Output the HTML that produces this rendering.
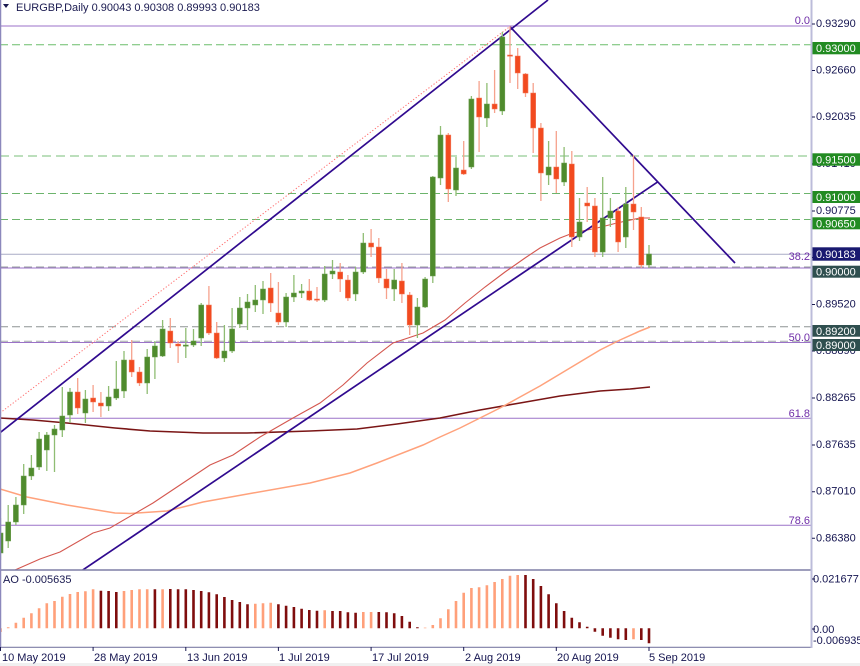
<!DOCTYPE html>
<html><head><meta charset="utf-8"><style>
html,body{margin:0;padding:0;background:#fff;}
svg{display:block;font-family:"Liberation Sans",Tahoma,sans-serif;}
</style></head><body>
<svg width="860" height="666" viewBox="0 0 860 666" xmlns="http://www.w3.org/2000/svg">
<defs><clipPath id="mc"><rect x="0" y="0" width="811" height="570"/></clipPath>
<clipPath id="ac"><rect x="0" y="571" width="811" height="76"/></clipPath></defs>
<rect width="860" height="666" fill="#fff"/>
<rect x="0" y="663" width="860" height="3" fill="#f0f0f0"/>
<g clip-path="url(#mc)">
<!-- horizontal levels -->
<line x1="0" y1="44.7" x2="811" y2="44.7" stroke="#6cbd6c" stroke-width="1" stroke-dasharray="8 4"/>
<line x1="0" y1="156" x2="811" y2="156" stroke="#bcdfbc" stroke-width="2" stroke-dasharray="9 5"/>
<line x1="0" y1="193.5" x2="811" y2="193.5" stroke="#6cb46c" stroke-width="1" stroke-dasharray="8 4"/>
<line x1="0" y1="219.5" x2="811" y2="219.5" stroke="#6cb46c" stroke-width="1" stroke-dasharray="8 4"/>
<line x1="0" y1="254.3" x2="811" y2="254.3" stroke="#a9abc6" stroke-width="1"/>
<line x1="0" y1="26" x2="811" y2="26" stroke="#9b72c8" stroke-width="1"/>
<line x1="0" y1="268" x2="811" y2="268" stroke="#9b72c8" stroke-width="1"/>
<line x1="0" y1="342.5" x2="811" y2="342.5" stroke="#9b72c8" stroke-width="1"/>
<line x1="0" y1="418.3" x2="811" y2="418.3" stroke="#9b72c8" stroke-width="1"/>
<line x1="0" y1="525.3" x2="811" y2="525.3" stroke="#9b72c8" stroke-width="1"/>
<line x1="0" y1="267" x2="811" y2="267" stroke="#9aa0a0" stroke-width="1" stroke-dasharray="8 4"/>
<line x1="0" y1="326.8" x2="811" y2="326.8" stroke="#8e9494" stroke-width="1" stroke-dasharray="8 4"/>
<line x1="0" y1="341.3" x2="811" y2="341.3" stroke="#a2a8a8" stroke-width="1" stroke-dasharray="8 4"/>
<!-- fib labels -->
<g font-size="11" fill="#6f2da8" text-anchor="end">
<text x="810" y="24">0.0</text>
<text x="810" y="260">38.2</text>
<text x="810" y="341">50.0</text>
<text x="810" y="417">61.8</text>
<text x="810" y="524">78.6</text>
</g>
<!-- moving averages -->
<polyline fill="none" stroke="#7a1515" stroke-width="1.6" points="0,418 33,420 67,423 115,428 150,431 203,433 247,433 310,431 357,429 397,424 440,418 480,410 520,403 560,396 600,391 630,389 650,387"/>
<polyline fill="none" stroke="#ffa27c" stroke-width="1.5" points="0,489 27,497 67,505 115,513 130,513.5 167,511 203,502 253,493 310,483 350,473 377,463 423,445 440,437 460,428 480,418 500,408 520,397 540,386 560,374 580,362 600,350 620,340 640,331 650,327"/>
<polyline fill="none" stroke="#d4574f" stroke-width="1.1" points="15,570 40,559 60,552 93,533 110,528 153,503 177,487 210,465 233,455 260,437 293,418 320,403 343,385 367,363 393,343 423,333 445,320 465,303 485,287 505,272 525,258 540,248 560,238 573,233 597,228 617,223 640,218 650,218"/>
<!-- trend lines -->
<line x1="0" y1="413" x2="510" y2="26.5" stroke="#ff6a6a" stroke-width="1" stroke-dasharray="1.2 2"/>
<line x1="0" y1="432.7" x2="548" y2="0" stroke="#300a8f" stroke-width="1.7"/>
<line x1="82.8" y1="570" x2="658" y2="181.7" stroke="#300a8f" stroke-width="1.7"/>
<line x1="510" y1="26.7" x2="735" y2="263" stroke="#300a8f" stroke-width="1.7"/>
<!-- wicks -->
<path fill="none" stroke="#8fbd73" stroke-width="1.3" d="M0.5 518V560M8.2 505V548M15.9 497V525M23.7 464V514M31.4 455V480M39.1 432V470M46.8 432V471M54.5 425V472M62.3 387V437M70 388V423M85.4 390V423M108.6 386V411M116.3 361V400M124 351V398M147.2 349V394M154.9 341V379M162.6 320V357M185.8 328V358M193.5 329V347M201.2 303V346M224.4 325V362M232.1 308V353M239.8 297V328M247.5 294V330M255.3 285V312M263 281V314M286.1 293V327M293.9 275V302M301.6 284V298M324.7 266V302M332.5 260V279M355.6 267V301M363.3 233V274M394.2 269V301M417.4 298V338M425.1 277V308M432.8 176V283M440.5 126V185M456 157V196M471.4 96V169M486.9 83V127M502.3 32V115M548.6 141V185M564.1 147V186M579.5 198V241M602.7 177V257M610.4 198V227M625.8 187V248M649 245V268"/>
<path fill="none" stroke="#f6a28d" stroke-width="1.3" d="M77.7 378V414M93.1 385V412M100.9 392V417M131.7 340V377M139.5 367V386M170.3 318V348M178.1 341V363M208.9 286V335M216.7 322V359M270.7 273V312M278.4 282V325M309.3 279V301M317 287V302M340.2 263V292M347.9 275V301M371.1 229V257M378.8 238V283M386.5 269V299M401.9 263V303M409.7 292V335M448.3 133V202M463.7 141V175M479.1 81V152M494.6 70V113M510 26V83M517.7 48V89M525.5 73V97M533.2 83V153M540.9 123V201M556.3 131V193M571.8 151V247M587.2 187V222M594.9 198V257M618.1 207V252M633.5 155V230M641.3 207V268"/>
<!-- bodies -->
<path fill="#4f8b2d" stroke="#6f9f52" stroke-width="0.6" d="M-2 533h5v20h-5zM5.7 522h5v19h-5zM13.4 505h5v17h-5zM21.2 476h5v29h-5zM28.9 468h5v8h-5zM36.6 439h5v28h-5zM44.3 435h5v15h-5zM52 429h5v6h-5zM59.8 416h5v14h-5zM67.5 392h5v23h-5zM82.9 399h5v14h-5zM106.1 397h5v9h-5zM113.8 389h5v9h-5zM121.5 360h5v31h-5zM144.7 357h5v26h-5zM152.4 346h5v11h-5zM160.1 329h5v27h-5zM183.3 345h5v1.2h-5zM191 341h5v4h-5zM198.7 305h5v33h-5zM221.9 351h5v7h-5zM229.6 329h5v22h-5zM237.3 308h5v16h-5zM245 302h5v6h-5zM252.8 300h5v5h-5zM260.5 289h5v11h-5zM283.6 297h5v25h-5zM291.4 293h5v4h-5zM299.1 291h5v2h-5zM322.2 274h5v26h-5zM330 271h5v3h-5zM353.1 272h5v22h-5zM360.8 243h5v29h-5zM391.7 280h5v9h-5zM414.9 307h5v18h-5zM422.6 279h5v28h-5zM430.3 177h5v99h-5zM438 135h5v43h-5zM453.5 168h5v22h-5zM468.9 99h5v68h-5zM484.4 104h5v14h-5zM499.8 37h5v74h-5zM546.1 167h5v8h-5zM561.6 163h5v19h-5zM577 222h5v15h-5zM600.2 218h5v34h-5zM607.9 211h5v7h-5zM623.3 204h5v33h-5zM646.5 254h5v11h-5z"/>
<path fill="#f24a1f" stroke="#f37a5c" stroke-width="0.6" d="M75.2 392h5v16h-5zM90.6 398h5v4h-5zM98.4 403h5v3h-5zM129.2 360h5v12h-5zM137 372h5v11h-5zM167.8 331h5v12h-5zM175.6 344h5v2h-5zM206.4 305h5v28h-5zM214.2 333h5v25h-5zM268.2 288h5v15h-5zM275.9 313h5v9h-5zM306.8 291h5v9h-5zM314.5 299h5v1.2h-5zM337.7 272h5v7h-5zM345.4 280h5v18h-5zM368.6 243h5v4h-5zM376.3 247h5v31h-5zM384 279h5v9h-5zM399.4 281h5v13h-5zM407.2 295h5v30h-5zM445.8 135h5v54h-5zM461.2 170h5v4h-5zM476.6 98h5v19h-5zM492.1 104h5v5h-5zM507.5 55h5v1.2h-5zM515.2 56h5v17h-5zM523 74h5v19h-5zM530.7 93h5v35h-5zM538.4 128h5v45h-5zM553.8 167h5v12h-5zM569.3 164h5v73h-5zM584.7 203h5v3h-5zM592.4 206h5v46h-5zM615.6 211h5v31h-5zM631 204h5v8h-5zM638.8 217h5v48h-5z"/>
</g>
<!-- AO panel -->
<g clip-path="url(#ac)">
<path fill="#ffa07a" d="M-0.8 628.3h2.6V632h-2.6zM6.9 627.3h2.6V628.3h-2.6zM14.6 622.7h2.6V628.3h-2.6zM22.4 617.7h2.6V628.3h-2.6zM30.1 613.3h2.6V628.3h-2.6zM37.8 608.3h2.6V628.3h-2.6zM45.5 603.3h2.6V628.3h-2.6zM53.2 601h2.6V628.3h-2.6zM61 596.7h2.6V628.3h-2.6zM68.7 594h2.6V628.3h-2.6zM76.4 592h2.6V628.3h-2.6zM84.1 591.3h2.6V628.3h-2.6zM91.8 589.3h2.6V628.3h-2.6zM122.7 591h2.6V628.3h-2.6zM130.4 590h2.6V628.3h-2.6zM138.2 589.3h2.6V628.3h-2.6zM145.9 589.3h2.6V628.3h-2.6zM161.3 589.3h2.6V628.3h-2.6zM254 603.7h2.6V628.3h-2.6zM261.7 603.3h2.6V628.3h-2.6zM269.4 602.7h2.6V628.3h-2.6zM323.4 610.3h2.6V628.3h-2.6zM362 612h2.6V628.3h-2.6zM369.8 612h2.6V628.3h-2.6zM423.8 627.6h2.6V628.3h-2.6zM431.5 625h2.6V628.3h-2.6zM439.2 618.3h2.6V628.3h-2.6zM447 609.3h2.6V628.3h-2.6zM454.7 601h2.6V628.3h-2.6zM462.4 592.7h2.6V628.3h-2.6zM470.1 588h2.6V628.3h-2.6zM477.8 587.3h2.6V628.3h-2.6zM485.6 585.3h2.6V628.3h-2.6zM493.3 582h2.6V628.3h-2.6zM501 579h2.6V628.3h-2.6zM508.7 575.7h2.6V628.3h-2.6zM516.4 575h2.6V628.3h-2.6zM632.2 628.3h2.6V639.3h-2.6z"/>
<path fill="#7f0d0d" d="M99.6 590.7h2.6V628.3h-2.6zM107.3 591h2.6V628.3h-2.6zM115 592h2.6V628.3h-2.6zM153.6 589.3h2.6V628.3h-2.6zM169 589h2.6V628.3h-2.6zM176.8 589.3h2.6V628.3h-2.6zM184.5 589.3h2.6V628.3h-2.6zM192.2 590h2.6V628.3h-2.6zM199.9 591h2.6V628.3h-2.6zM207.6 592.3h2.6V628.3h-2.6zM215.4 594.3h2.6V628.3h-2.6zM223.1 597h2.6V628.3h-2.6zM230.8 600h2.6V628.3h-2.6zM238.5 602h2.6V628.3h-2.6zM246.2 604.3h2.6V628.3h-2.6zM277.1 604.3h2.6V628.3h-2.6zM284.8 605.7h2.6V628.3h-2.6zM292.6 607h2.6V628.3h-2.6zM300.3 608.7h2.6V628.3h-2.6zM308 610h2.6V628.3h-2.6zM315.7 610.7h2.6V628.3h-2.6zM331.2 611h2.6V628.3h-2.6zM338.9 611h2.6V628.3h-2.6zM346.6 612.3h2.6V628.3h-2.6zM354.3 612.7h2.6V628.3h-2.6zM377.5 612h2.6V628.3h-2.6zM385.2 612.3h2.6V628.3h-2.6zM392.9 613.3h2.6V628.3h-2.6zM400.6 616h2.6V628.3h-2.6zM408.4 621.7h2.6V628.3h-2.6zM416.1 627.3h2.6V628.3h-2.6zM524.2 575h2.6V628.3h-2.6zM531.9 579h2.6V628.3h-2.6zM539.6 586h2.6V628.3h-2.6zM547.3 594.3h2.6V628.3h-2.6zM555 603.3h2.6V628.3h-2.6zM562.8 611h2.6V628.3h-2.6zM570.5 617.7h2.6V628.3h-2.6zM578.2 622.3h2.6V628.3h-2.6zM585.9 626.7h2.6V628.3h-2.6zM593.6 628.3h2.6V631.7h-2.6zM601.4 628.3h2.6V635.7h-2.6zM609.1 628.3h2.6V637.7h-2.6zM616.8 628.3h2.6V639.3h-2.6zM624.5 628.3h2.6V640h-2.6zM640 628.3h2.6V640h-2.6zM647.7 628.3h2.6V643.3h-2.6z"/>
</g>
<!-- frames -->
<line x1="0" y1="570" x2="812" y2="570" stroke="#7e7ea6" stroke-width="1.5"/>
<line x1="0" y1="647.3" x2="812" y2="647.3" stroke="#7e7ea6" stroke-width="1.2"/>
<line x1="811.5" y1="0" x2="811.5" y2="648" stroke="#bcbcda" stroke-width="2"/>
<line x1="0.6" y1="0" x2="0.6" y2="648" stroke="#8c88bc" stroke-width="1.3"/>
<!-- header -->
<polygon points="3,4 9,4 6,8" fill="#1a1a50"/>
<text x="16" y="11" font-size="11" fill="#1a1a50">EURGBP,Daily  0.90043 0.90308 0.89993 0.90183</text>
<text x="3" y="583" font-size="11" fill="#1a1a50">AO -0.005635</text>
<!-- right axis ticks -->
<path stroke="#1a1a50" stroke-width="1" d="M812 24h3M812 70.5h3M812 117h3M812 164h3M812 211h3M812 257.5h3M812 304.5h3M812 351h3M812 398h3M812 445h3M812 491.7h3M812 538.3h3M812 579h3M812 629h3"/>
<g font-size="11" fill="#141450">
<text x="816" y="27">0.93290</text>
<text x="816" y="73.5">0.92660</text>
<text x="816" y="120">0.92035</text>
<text x="816" y="167">0.91410</text>
<text x="816" y="214">0.90775</text>
<text x="816" y="260.5">0.90150</text>
<text x="816" y="307.5">0.89520</text>
<text x="816" y="354">0.88890</text>
<text x="816" y="401">0.88265</text>
<text x="816" y="448">0.87635</text>
<text x="816" y="494.7">0.87010</text>
<text x="816" y="541.3">0.86380</text>
<text x="813" y="582.3">0.021677</text>
<text x="813" y="633">0.00</text>
<text x="813" y="644">-0.006935</text>
</g>
<!-- price boxes -->
<rect x="812.5" y="42" width="48" height="12.3" fill="#228b22"/>
<rect x="812.5" y="153.3" width="48" height="12.4" fill="#228b22"/>
<rect x="812.5" y="191" width="48" height="12" fill="#228b22"/>
<rect x="812.5" y="217.3" width="48" height="12" fill="#228b22"/>
<rect x="812.5" y="247.3" width="48" height="13.4" fill="#191970"/>
<rect x="812.5" y="265.7" width="48" height="12" fill="#2f4f4f"/>
<rect x="812.5" y="325" width="48" height="11.7" fill="#2f4f4f"/>
<rect x="812.5" y="339" width="48" height="12" fill="#2f4f4f"/>
<g font-size="11" fill="#ffffff">
<text x="816" y="52">0.93000</text>
<text x="816" y="163.5">0.91500</text>
<text x="816" y="201">0.91000</text>
<text x="816" y="227.3">0.90650</text>
<text x="816" y="258">0.90183</text>
<text x="816" y="275.7">0.90000</text>
<text x="816" y="334.8">0.89200</text>
<text x="816" y="349">0.89000</text>
</g>
<!-- x axis -->
<path stroke="#1a1a50" stroke-width="1" d="M0.5 647v4M93.1 647v4M185.8 647v4M278.4 647v4M371.1 647v4M463.7 647v4M556.3 647v4M649 647v4"/>
<g font-size="11" fill="#141450">
<text x="2" y="661">10 May 2019</text>
<text x="94" y="661">28 May 2019</text>
<text x="187" y="661">13 Jun 2019</text>
<text x="279" y="661">1 Jul 2019</text>
<text x="372" y="661">17 Jul 2019</text>
<text x="465" y="661">2 Aug 2019</text>
<text x="557" y="661">20 Aug 2019</text>
<text x="649" y="661">5 Sep 2019</text>
</g>
</svg>
</body></html>
